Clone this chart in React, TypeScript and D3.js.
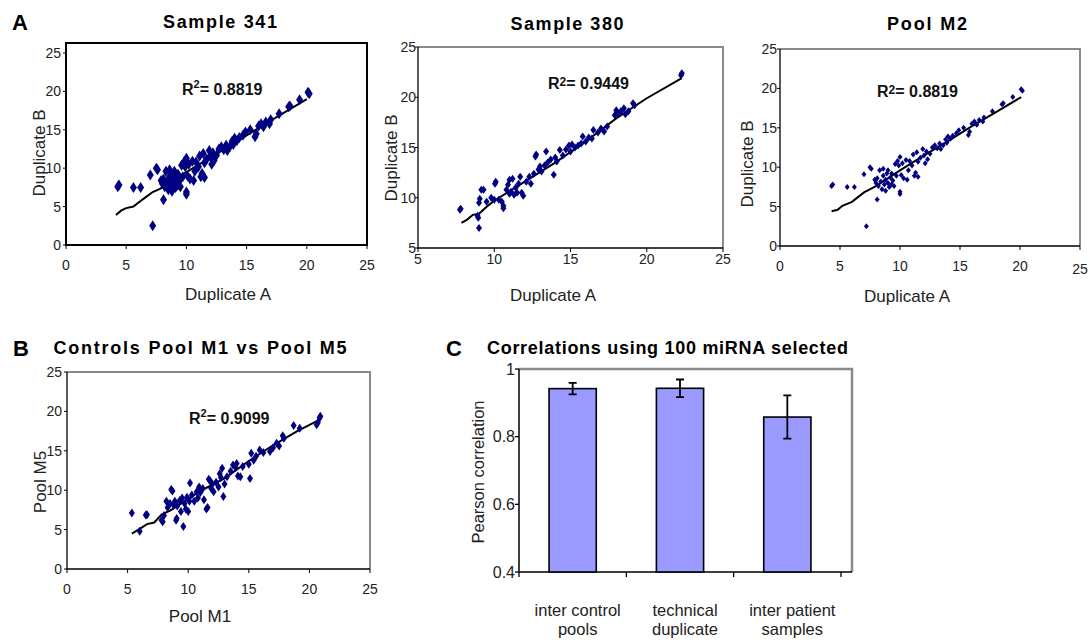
import React from 'react';
import * as d3 from 'd3';

const FONT = '"Liberation Sans", Arial, Helvetica, sans-serif';
const NAVY = '#000080';

// Sample 341 and Pool M2 show the same points (same R2)
const sample341: [number, number][] = [
  [4.3, 7.6], [4.4, 7.8], [5.6, 7.5], [6.2, 7.5], [7.0, 9.1], [7.5, 10.0], [7.6, 9.8], [7.2, 2.5],
  [8.1, 5.9], [10.0, 6.6], [10.0, 6.9], [7.9, 8.4], [8.0, 8.0], [8.1, 8.6], [8.2, 7.6], [8.3, 9.6],
  [8.4, 8.2], [8.5, 7.2], [8.6, 8.9], [8.6, 9.8], [8.7, 7.8], [8.8, 8.4], [8.8, 7.0], [8.9, 9.2],
  [9.0, 8.0], [9.0, 9.6], [9.1, 7.5], [9.2, 8.7], [9.3, 7.8], [9.3, 9.2], [9.4, 8.3], [9.5, 7.6],
  [9.6, 10.4], [9.7, 8.9], [9.8, 10.8], [9.9, 10.2], [10.0, 11.3], [10.1, 9.0], [10.2, 10.5],
  [10.3, 8.6], [10.5, 10.9], [10.6, 8.4], [10.7, 9.6], [10.8, 10.8], [11.0, 10.2], [11.1, 11.6],
  [11.2, 8.9], [11.3, 9.3], [11.4, 11.9], [11.5, 8.8], [11.5, 10.7], [11.7, 11.2], [11.9, 12.3],
  [12.0, 11.5], [12.1, 10.5], [12.2, 12.0], [12.3, 11.0], [12.5, 11.7], [12.7, 12.5], [12.9, 12.8],
  [13.1, 12.4], [13.3, 13.0], [13.4, 12.3], [13.6, 12.8], [13.8, 13.5], [13.9, 13.1], [14.0, 13.9],
  [14.2, 13.6], [14.4, 14.0], [14.7, 14.3], [14.9, 14.7], [15.3, 15.0], [15.7, 14.1], [15.8, 14.5],
  [16.0, 15.5], [16.2, 15.8], [16.4, 15.4], [16.6, 16.0], [16.9, 15.8], [17.0, 16.3], [17.7, 17.1],
  [18.5, 18.0], [18.6, 18.1], [19.4, 18.9], [20.2, 19.7], [20.1, 19.9],
];

const sample380: [number, number][] = [
  [7.75, 8.8], [7.8, 8.9], [9.0, 7.0], [8.95, 8.0], [8.9, 8.2], [9.0, 9.5], [9.05, 9.9], [9.15, 10.8],
  [9.3, 10.8], [9.5, 9.6], [9.8, 10.0], [10.0, 9.8], [10.05, 11.4], [10.1, 11.6], [10.3, 9.8],
  [10.5, 9.6], [10.6, 8.95], [10.6, 9.2], [10.8, 10.8], [10.9, 11.3], [11.0, 11.8], [11.0, 10.4],
  [11.1, 10.6], [11.2, 11.9], [11.3, 10.3], [11.4, 11.0], [11.5, 10.5], [11.6, 11.4], [11.7, 12.1],
  [11.8, 10.5], [11.9, 10.2], [12.1, 11.6], [12.3, 12.1], [12.4, 11.4], [12.6, 12.4], [12.7, 14.1],
  [12.75, 14.3], [12.9, 12.8], [13.0, 13.1], [13.1, 12.6], [13.3, 13.2], [13.4, 14.6], [13.5, 13.5],
  [13.7, 13.8], [13.9, 12.3], [14.0, 14.0], [14.1, 13.6], [14.3, 14.75], [14.5, 14.2], [14.7, 14.8],
  [14.9, 15.2], [15.0, 14.6], [15.1, 15.3], [15.3, 15.0], [15.5, 15.2], [15.7, 15.4], [15.8, 16.1],
  [16.0, 15.6], [16.2, 16.0], [16.4, 15.9], [16.5, 16.75], [16.8, 16.5], [17.0, 16.9], [17.2, 16.6],
  [17.4, 17.1], [17.9, 18.2], [18.0, 18.7], [18.1, 18.4], [18.3, 18.6], [18.5, 18.9], [18.6, 18.3],
  [18.8, 18.6], [19.1, 19.4], [19.2, 19.2], [22.3, 22.4], [22.25, 22.2],
];

const poolM1M5: [number, number][] = [
  [5.35, 7.1], [6.5, 6.85], [6.6, 6.9], [6.0, 4.8], [7.8, 6.2], [7.9, 6.0], [8.0, 6.8], [8.2, 8.6],
  [8.3, 7.8], [8.5, 8.3], [8.6, 10.1], [8.7, 9.9], [8.8, 8.1], [8.9, 8.6], [9.0, 6.2], [9.05, 6.4],
  [9.1, 8.0], [9.3, 8.7], [9.4, 7.3], [9.5, 9.0], [9.6, 5.4], [9.7, 8.3], [9.8, 7.6], [9.9, 9.1],
  [10.0, 7.3], [10.1, 8.6], [10.15, 10.9], [10.3, 9.4], [10.5, 8.6], [10.7, 9.8], [10.8, 9.0],
  [10.9, 10.4], [11.0, 9.7], [11.2, 10.2], [11.3, 8.8], [11.5, 7.6], [11.6, 7.8], [11.7, 11.4],
  [11.8, 11.2], [11.9, 10.2], [12.0, 10.8], [12.1, 9.8], [12.3, 11.0], [12.5, 10.4], [12.6, 12.1],
  [12.7, 11.6], [12.8, 12.8], [12.9, 9.2], [13.0, 10.8], [13.2, 11.7], [13.5, 12.4], [13.7, 13.2],
  [13.9, 12.9], [14.0, 13.4], [14.1, 11.8], [14.3, 11.7], [14.5, 13.0], [15.0, 13.3], [15.1, 11.5],
  [15.2, 14.7], [15.4, 13.8], [15.6, 14.3], [15.9, 15.1], [16.2, 14.8], [16.75, 14.9], [17.0, 15.4],
  [17.3, 15.95], [17.5, 15.6], [17.8, 16.9], [17.9, 16.6], [18.7, 18.2], [19.2, 17.85], [20.6, 18.3],
  [20.7, 18.6], [20.9, 19.4], [20.85, 19.2],
];

// trend lines
const trend341: [number, number][] = [
  [4.15, 3.9], [4.6, 4.5], [5.0, 4.8], [5.6, 5.0], [6.0, 5.5], [6.6, 6.2], [7.2, 6.9], [7.8, 7.3],
  [10, 9.5], [14, 13.3], [17, 16.2], [20, 19.0],
];
const trendM2: [number, number][] = [
  [4.3, 4.4], [4.8, 4.6], [5.2, 5.1], [6.0, 5.6], [7.0, 6.8], [8.0, 7.6], [10.0, 9.6], [12.0, 11.5],
  [14.0, 13.3], [16.0, 15.2], [18.0, 17.0], [20.1, 18.9],
];
const trend380: [number, number][] = [
  [7.85, 7.5], [8.2, 7.8], [8.6, 8.3], [9.0, 8.4], [9.5, 9.1], [10, 9.7], [12, 11.6], [14, 13.5],
  [16, 15.6], [18, 17.9], [20, 19.9], [22.3, 21.9],
];
const trendM1M5: [number, number][] = [
  [5.35, 4.5], [6.0, 5.1], [6.6, 5.7], [7.2, 5.9], [7.8, 6.9], [8.5, 7.4], [9.5, 8.4], [11, 9.9],
  [13, 11.5], [15, 13.7], [17, 15.7], [19, 17.5], [20.9, 19.0],
];

const ticks0to25 = [0, 5, 10, 15, 20, 25];
const ticks5to25 = [5, 10, 15, 20, 25];

const corrCategories = [['inter control', 'pools'], ['technical', 'duplicate'], ['inter patient', 'samples']];
const corrValues = [0.942, 0.943, 0.858];
const corrErrors = [0.017, 0.026, 0.064];
const corrTicks = [0.4, 0.6, 0.8, 1];

const diamond = (w: number, h: number) => `M0,${-h / 2}L${w / 2},0L0,${h / 2}L${-w / 2},0Z`;

function Scatter(p: any) {
  const { box } = p;
  const x = d3.scaleLinear().domain(p.xDomain).range([box.l, box.r]);
  const y = d3.scaleLinear().domain(p.yDomain).range([box.b, p.yTop ?? box.t]);
  const line = d3.line<[number, number]>().x(d => x(d[0])).y(d => y(d[1]));
  const shape = diamond(p.mw, p.mh);
  return (
    <g>
      {p.blackFrame ? (
        <rect x={box.l} y={box.t} width={box.r - box.l} height={box.b - box.t} fill="none" stroke="#000" strokeWidth={2} />
      ) : (
        <g>
          <path d={`M${box.l},${box.t}H${box.r}V${box.b}`} fill="none" stroke="#8a8a8a" strokeWidth={2} />
          <path d={`M${box.l},${box.t}V${box.b}H${box.r}`} fill="none" stroke="#000" strokeWidth={1.3} />
        </g>
      )}
      {p.xTicks.map((t: number, i: number) => (
        <g key={'x' + t}>
          <line x1={x(t)} x2={x(t)} y1={box.b} y2={box.b + 4} stroke="#000" />
          <text x={x(t)} y={box.b + p.xTickDy + (i === p.xTicks.length - 1 ? p.lastTickDrop || 0 : 0)} textAnchor="middle" fontSize={14} fill="#222">{t}</text>
        </g>
      ))}
      {p.yTicks.map((t: number) => (
        <g key={'y' + t}>
          <line x1={box.l - 3} x2={box.l} y1={y(t)} y2={y(t)} stroke="#000" />
          <text x={box.l - p.yTickGap} y={y(t)} dy="0.36em" textAnchor="end" fontSize={14} fill="#222">{t}</text>
        </g>
      ))}
      <path d={line(p.trend) || ''} fill="none" stroke="#000" strokeWidth={2} />
      {p.points.map((d: [number, number], i: number) => (
        <path key={i} d={shape} transform={`translate(${x(d[0])},${y(d[1])})`} fill={NAVY} />
      ))}
      <text x={p.title.x} y={p.title.y} textAnchor="middle" fontSize={18} fontWeight="bold" textLength={p.title.len} lengthAdjust="spacing">{p.title.text}</text>
      <text x={p.r2.x} y={p.r2.y} fontSize={16} fontWeight="bold" fill="#111">
        R<tspan fontSize={p.r2.supSize} dy={p.r2.supDy}>2</tspan><tspan dy={-p.r2.supDy}>= {p.r2.text}</tspan>
      </text>
      <text x={p.xLabel.x} y={p.xLabel.y} textAnchor="middle" fontSize={17} fill="#222">{p.xLabel.text}</text>
      <text transform={`translate(${p.yLabel.x},${p.yLabel.y}) rotate(-90)`} textAnchor="middle" fontSize={17} fill="#222">{p.yLabel.text}</text>
    </g>
  );
}

function Bars() {
  const box = { l: 519, r: 852, t: 369, b: 572 };
  const x = d3.scaleBand<number>().domain(d3.range(corrValues.length)).range([519, 841]).paddingInner(0.56).paddingOuter(0.28);
  const y = d3.scaleLinear().domain([0.4, 1]).range([box.b, box.t]);
  const gap = (x.step() - x.bandwidth()) / 2;
  const bounds = [...x.domain().map(i => (x(i) as number) - gap), 841];
  return (
    <g>
      <path d={`M${box.l},${box.t}H${box.r}V${box.b}`} fill="none" stroke="#8a8a8a" strokeWidth={2.5} />
      <path d={`M${box.l},${box.t}V${box.b}H${box.r}`} fill="none" stroke="#000" strokeWidth={1.5} />
      {corrTicks.map(t => (
        <g key={t}>
          <line x1={box.l - 4} x2={box.l} y1={y(t)} y2={y(t)} stroke="#000" strokeWidth={1.3} />
          <text x={box.l - 4} y={y(t)} dy="0.36em" textAnchor="end" fontSize={16} fill="#222">{t}</text>
        </g>
      ))}
      {bounds.map((b, i) => (
        <line key={i} x1={b} x2={b} y1={box.b} y2={box.b + 5} stroke="#000" strokeWidth={1.3} />
      ))}
      {corrValues.map((v, i) => {
        const cx = (x(i) as number) + x.bandwidth() / 2;
        return (
          <g key={i}>
            <rect x={x(i)} y={y(v)} width={x.bandwidth()} height={box.b - y(v)} fill="#9999ff" stroke="#000" strokeWidth={1.6} />
            <path d={`M${cx},${y(v + corrErrors[i])}V${y(v - corrErrors[i])}M${cx - 4},${y(v + corrErrors[i])}H${cx + 4}M${cx - 4},${y(v - corrErrors[i])}H${cx + 4}`} stroke="#000" strokeWidth={1.8} fill="none" />
            {corrCategories[i].map((s, j) => (
              <text key={j} x={cx + 5} y={616 + j * 19} textAnchor="middle" fontSize={16.5} fill="#222">{s}</text>
            ))}
          </g>
        );
      })}
      <text transform="translate(484,472) rotate(-90)" textAnchor="middle" fontSize={16.5} fill="#222">Pearson correlation</text>
      <text x={487} y={354} fontSize={18} fontWeight="bold" textLength={361} lengthAdjust="spacing">Correlations using 100 miRNA selected</text>
    </g>
  );
}

export default function App() {
  return (
    <svg width={1090} height={640} style={{ position: 'absolute', left: 0, top: 0, background: '#fff' }} fontFamily={FONT}>
      <rect width={1090} height={640} fill="#fff" />
      <text x={12} y={30} fontSize={22} fontWeight="bold">A</text>
      <text x={13} y={356} fontSize={22} fontWeight="bold">B</text>
      <text x={446} y={356} fontSize={22} fontWeight="bold">C</text>

      <Scatter
        box={{ l: 66, r: 367, t: 43, b: 245 }} yTop={53} blackFrame
        xDomain={[0, 25]} yDomain={[0, 25]} xTicks={ticks0to25} yTicks={ticks0to25}
        xTickDy={25} yTickGap={5}
        points={sample341} trend={trend341} mw={7} mh={11}
        title={{ text: 'Sample 341', x: 220, y: 28, len: 114 }}
        r2={{ text: '0.8819', x: 182, y: 95, supSize: 11, supDy: -7 }}
        xLabel={{ text: 'Duplicate A', x: 228, y: 300 }}
        yLabel={{ text: 'Duplicate B', x: 45, y: 153 }}
      />
      <Scatter
        box={{ l: 418, r: 723, t: 47, b: 248 }}
        xDomain={[5, 25]} yDomain={[5, 25]} xTicks={ticks5to25} yTicks={ticks5to25}
        xTickDy={16} yTickGap={2}
        points={sample380} trend={trend380} mw={6} mh={8}
        title={{ text: 'Sample 380', x: 567, y: 30, len: 113 }}
        r2={{ text: '0.9449', x: 548, y: 89, supSize: 12, supDy: -3 }}
        xLabel={{ text: 'Duplicate A', x: 553, y: 301 }}
        yLabel={{ text: 'Duplicate B', x: 397, y: 158 }}
      />
      <Scatter
        box={{ l: 780, r: 1080, t: 49, b: 246 }}
        xDomain={[0, 25]} yDomain={[0, 25]} xTicks={ticks0to25} yTicks={ticks0to25}
        xTickDy={25} yTickGap={3} lastTickDrop={3}
        points={sample341} trend={trendM2} mw={5} mh={6}
        title={{ text: 'Pool M2', x: 927, y: 30, len: 80 }}
        r2={{ text: '0.8819', x: 877, y: 97, supSize: 12, supDy: -3 }}
        xLabel={{ text: 'Duplicate A', x: 907, y: 302 }}
        yLabel={{ text: 'Duplicate B', x: 753, y: 164 }}
      />
      <Scatter
        box={{ l: 67, r: 370, t: 372, b: 569 }}
        xDomain={[0, 25]} yDomain={[0, 25]} xTicks={ticks0to25} yTicks={ticks0to25}
        xTickDy={25} yTickGap={5}
        points={poolM1M5} trend={trendM1M5} mw={6} mh={9}
        title={{ text: 'Controls Pool M1 vs Pool M5', x: 200, y: 354, len: 293 }}
        r2={{ text: '0.9099', x: 189, y: 424, supSize: 11, supDy: -7 }}
        xLabel={{ text: 'Pool M1', x: 200, y: 622 }}
        yLabel={{ text: 'Pool M5', x: 46, y: 482 }}
      />
      <Bars />
    </svg>
  );
}
